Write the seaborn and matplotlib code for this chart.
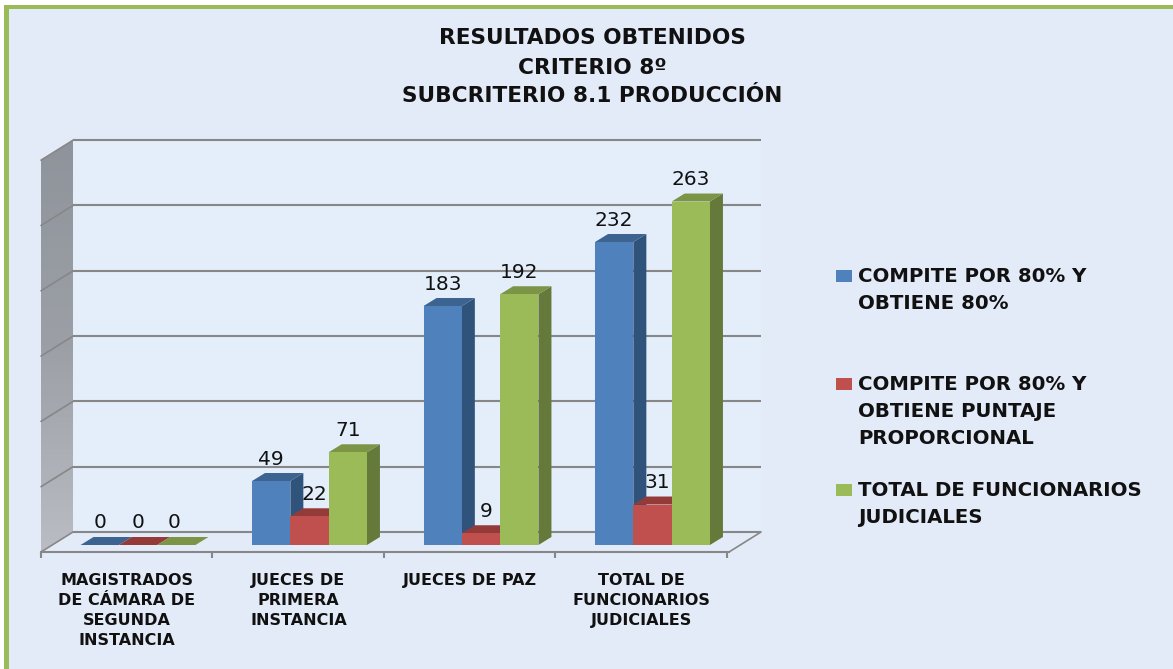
import matplotlib
matplotlib.use("Agg")
import matplotlib.pyplot as plt
from matplotlib.colors import LinearSegmentedColormap
from matplotlib.patches import Polygon, Rectangle
import numpy as np
import pandas as pd
import seaborn as sns

categories = ["MAGISTRADOS\nDE CÁMARA DE\nSEGUNDA\nINSTANCIA", "JUECES DE\nPRIMERA\nINSTANCIA",
              "JUECES DE PAZ", "TOTAL DE\nFUNCIONARIOS\nJUDICIALES"]
series_names = ["COMPITE POR 80% Y\nOBTIENE 80%",
                "COMPITE POR 80% Y\nOBTIENE PUNTAJE\nPROPORCIONAL",
                "TOTAL DE FUNCIONARIOS\nJUDICIALES"]
obtiene = [0, 49, 183, 232]
proporcional = [0, 22, 9, 31]
total = [0, 71, 192, 263]
gridlines = [0, 50, 100, 150, 200, 250, 300]
title_lines = ["RESULTADOS OBTENIDOS", "CRITERIO 8º", "SUBCRITERIO 8.1 PRODUCCIÓN"]

front = ["#4F81BD", "#C0504D", "#9BBB59"]
top = ["#3D6491", "#943B39", "#7B9446"]
side = ["#30537C", "#7E3230", "#657A3A"]
BG, WALL, GRID, BORDER = "#E4EBF8", "#E3EEFA", "#878787", "#9BBB59"
SIDEWALL_RAMP = ["#B9BDC3", "#9CA0A6", "#8F949C"]

W, H = 1173, 669
PX_X, PX_Y = 1 / 171.5, 1 / 1.306  # data units per pixel
BAR_DX, BAR_DY = 13 * PX_X, 8 * PX_Y
WALL_DX, WALL_DY = 32 * PX_X, 20 * PX_Y

sns.set_theme(style="white")
plt.rcParams["font.family"] = ["DejaVu Sans"]
fig = plt.figure(figsize=(W / 100, H / 100), dpi=100, facecolor="white")
fig.patches.append(Rectangle((4 / W, 0), 1, 1 - 5 / H, transform=fig.transFigure, fc=BORDER, ec="none", zorder=-3))
fig.patches.append(Rectangle((9 / W, 0), 1, 1 - 9 / H, transform=fig.transFigure, fc=BG, ec="none", zorder=-2))

ax = fig.add_axes([41 / W, (H - 552) / H, 688 / W, (552 - 159) / H])
ax.patch.set_alpha(0)

df = pd.DataFrame({
    "cat": categories * 3,
    "serie": sum([[s] * 4 for s in series_names], []),
    "val": obtiene + proporcional + total,
})
sns.barplot(data=df, x="cat", y="val", hue="serie", order=categories, hue_order=series_names,
            palette=front, width=0.67, gap=0, saturation=1, legend=False, ax=ax, zorder=5)

x0, x1 = -97 * PX_X, 591 * PX_X
y0, y1 = -7 * PX_Y, 386 * PX_Y
ax.set_xlabel("")
ax.set_ylabel("")
ax.set_yticks([])
for s in ["top", "right", "left"]:
    ax.spines[s].set_visible(False)
ax.spines["bottom"].set_color(GRID)
ax.spines["bottom"].set_linewidth(1.5)

# Walls and floor, built from the depth offsets and the axis limits
back_y = lambda v: v + 13 * PX_Y
gy0, gy1 = back_y(gridlines[0]), back_y(gridlines[-1])
ax.add_patch(Polygon([(x0 + WALL_DX, gy0), (x1 + WALL_DX, gy0), (x1 + WALL_DX, gy1), (x0 + WALL_DX, gy1)],
                     fc=WALL, ec="none", zorder=0, clip_on=False))
wall_shape = Polygon([(x0, y0), (x0 + WALL_DX, gy0), (x0 + WALL_DX, gy1), (x0, gy1 - WALL_DY)],
                     fc="none", ec="none", transform=ax.transData)
ax.add_patch(wall_shape)
wall_img = ax.imshow(np.linspace(0, 1, 64).reshape(-1, 1), origin="lower", aspect="auto",
                     extent=(x0, x0 + WALL_DX, y0, gy1), zorder=1,
                     cmap=LinearSegmentedColormap.from_list("wall", SIDEWALL_RAMP))
wall_img.set_clip_path(wall_shape)
wall_img.set_clip_box(fig.bbox)
ax.add_patch(Polygon([(x0, y0), (x0 + WALL_DX, gy0), (x1 + WALL_DX, gy0), (x1, y0)],
                     fc=BG, ec="none", zorder=1, clip_on=False))
for v in gridlines:
    ax.plot([x0 + WALL_DX, x1 + WALL_DX], [back_y(v)] * 2, color=GRID, lw=1.5, zorder=2,
            clip_on=False, solid_capstyle="butt")
    ax.plot([x0, x0 + WALL_DX], [back_y(v) - WALL_DY, back_y(v)], color=GRID, lw=1.2, zorder=2, clip_on=False)
ax.plot([x1, x1 + WALL_DX], [y0, back_y(0)], color=GRID, lw=1.2, zorder=2, clip_on=False)

# Depth faces of each bar and value labels
for i, cont in enumerate(ax.containers):
    for bar, v in zip(cont, [obtiene, proporcional, total][i]):
        bx, bw, bh = bar.get_x(), bar.get_width(), bar.get_height()
        bar.set_zorder(5 + i + 0.5)
        bar.set_edgecolor("none")
        ax.add_patch(Polygon([(bx + bw, 0), (bx + bw + BAR_DX, BAR_DY), (bx + bw + BAR_DX, bh + BAR_DY), (bx + bw, bh)],
                             fc=side[i], ec="none", zorder=5 + i))
        ax.add_patch(Polygon([(bx, bh), (bx + BAR_DX, bh + BAR_DY), (bx + bw + BAR_DX, bh + BAR_DY), (bx + bw, bh)],
                             fc=top[i], ec="none", zorder=5 + i))
        shift_px = 5 if (i == 1 and v > 0) else (-2 if (i == 2 and v == 0) else 0)
        ax.annotate(str(v), (bx + bw / 2, bh), xytext=(shift_px * 0.72, 22 * 0.72),
                    textcoords="offset points", ha="center", va="center",
                    fontsize=14.5, color="#111111", zorder=10)

ax.set_xlim(x0, x1)
ax.set_ylim(y0, y1)

# Category labels and floor ticks
label_shift = 11 * PX_X
ax.set_xticks([k - label_shift for k in range(len(categories))], categories)
ax.set_xticks([x0 + k for k in range(len(categories) + 1)], minor=True)
ax.tick_params(axis="x", which="major", length=0, pad=15)
ax.tick_params(axis="x", which="minor", length=4, width=1.5, color=GRID, bottom=True)
for t in ax.get_xticklabels():
    t.set_fontweight("bold")
    t.set_fontsize(11.5)
    t.set_color("#111111")
    t.set_linespacing(1.43)
    t.set_verticalalignment("top")

# Title
for line, y in zip(title_lines, [38, 68, 96]):
    fig.text(592 / W, 1 - y / H, line, ha="center", va="center", fontsize=15.6, fontweight="bold",
             color="#111111")

# Legend
for name, color, y in zip(series_names, front, [276, 384, 490]):
    fig.patches.append(Rectangle((836 / W, 1 - (y + 6) / H), 16 / W, 12 / H, transform=fig.transFigure,
                                 fc=color, ec="none"))
    fig.text(858 / W, 1 - (y - 9) / H, name, ha="left", va="top", fontsize=14.2, fontweight="bold",
             linespacing=1.55, color="#111111")

fig.savefig("out.png", dpi=100)
